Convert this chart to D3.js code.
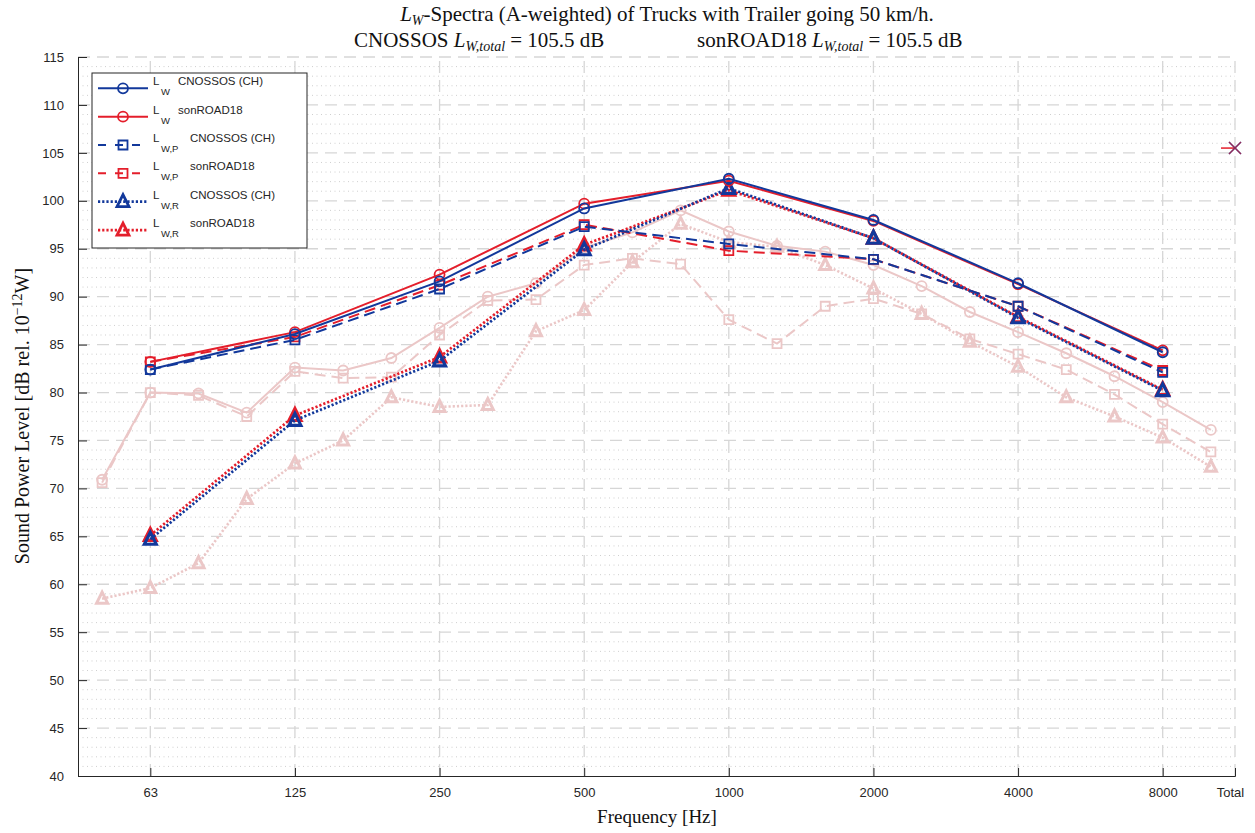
<!DOCTYPE html>
<html>
<head>
<meta charset="utf-8">
<script src="https://cdn.jsdelivr.net/npm/d3@7"></script>
<style>
  body { margin: 0; background: #fff; }
  text { fill: #262626; }
  .serif { font-family: 'Liberation Serif', 'Times New Roman', serif; fill: #111; }
  .sans { font-family: 'Liberation Sans', Arial, sans-serif; }
</style>
</head>
<body>
<svg id="chart" width="1255" height="833"></svg>
<script>
// octave bands (dark lines)
let octaveBands = ['63', '125', '250', '500', '1000', '2000', '4000', '8000'];
let cnossosLW = [82.4, 86.1, 91.6, 99.2, 102.3, 98.0, 91.4, 84.2];
let sonroadLW = [83.2, 86.3, 92.3, 99.7, 102.1, 97.9, 91.3, 84.4];
let cnossosLWP = [82.4, 85.5, 90.8, 97.3, 95.5, 93.9, 89.0, 82.1];
let sonroadLWP = [83.2, 85.8, 91.2, 97.5, 94.8, 93.9, 89.0, 82.3];
let cnossosLWR = [64.7, 77.1, 83.3, 94.9, 101.3, 96.1, 87.8, 80.2];
let sonroadLWR = [65.1, 77.6, 83.7, 95.4, 101.1, 96.1, 87.9, 80.3];

// third-octave bands (pale lines, sonROAD18)
let thirdBands = [50, 63, 80, 100, 125, 160, 200, 250, 315, 400, 500, 630, 800,
    1000, 1250, 1600, 2000, 2500, 3150, 4000, 5000, 6300, 8000, 10000];
let thirdLW = [70.9, 80.0, 79.9, 77.9, 82.6, 82.3, 83.6, 86.75, 90.0, 91.4, 95.1, 96.7, 99.0,
    96.8, 95.3, 94.7, 93.3, 91.1, 88.4, 86.3, 84.1, 81.7, 79.0, 76.1];
let thirdLWP = [70.6, 80.0, 79.7, 77.5, 82.2, 81.5, 81.6, 86.0, 89.6, 89.7, 93.3, 94.0, 93.4,
    87.6, 85.1, 89.0, 89.8, 88.2, 85.6, 84.0, 82.4, 79.8, 76.7, 73.8];
let thirdLWR = [58.5, 59.6, 62.2, 68.9, 72.6, 75.0, 79.5, 78.5, 78.7, 86.4, 88.6, 93.6, 97.6,
    95.7, 95.2, 93.3, 90.85, 88.2, 85.3, 82.7, 79.5, 77.5, 75.3, 72.25];

let totalCnossos = 105.5;
let totalSonroad = 105.5;
let yTicks = d3.range(40, 116, 5);

let blue = '#12389b';
let red = '#e41e2b';
let pale = '#ebc7c7';

let svg = d3.select('#chart');

let x = d3.scaleLinear().domain([-0.5, thirdBands.length - 0.5]).range([78, 1235]);
let y = d3.scaleLinear().domain([40, 115]).range([776, 57]);

// band index of a frequency label
let bandIndex = f => thirdBands.indexOf(+f);
let totalIndex = thirdBands.length - 0.5;

// grid
let grid = svg.append('g');
grid.selectAll('.minor')
    .data(d3.range(41, 115, 1).filter(v => v % 5 !== 0))
    .enter()
    .append('line')
    .attr('x1', x.range()[0]).attr('x2', x.range()[1])
    .attr('y1', d => y(d)).attr('y2', d => y(d))
    .attr('stroke', '#cfcfcf').attr('stroke-width', 1)
    .attr('stroke-dasharray', '1,3.5');
grid.selectAll('.majorY')
    .data(yTicks.filter(v => v > 40))
    .enter()
    .append('line')
    .attr('x1', x.range()[0]).attr('x2', x.range()[1])
    .attr('y1', d => y(d)).attr('y2', d => y(d))
    .attr('stroke', '#d6d6d6').attr('stroke-width', 1.3)
    .attr('stroke-dasharray', '12,7');
grid.selectAll('.majorX')
    .data(octaveBands.map(bandIndex).concat([totalIndex]))
    .enter()
    .append('line')
    .attr('x1', d => x(d)).attr('x2', d => x(d))
    .attr('y1', y(40)).attr('y2', y(115))
    .attr('stroke', '#d6d6d6').attr('stroke-width', 1.3)
    .attr('stroke-dasharray', '12,7');

// axes
let yAxis = d3.axisLeft(y).tickValues(yTicks).tickSize(-9).tickPadding(14);
let xAxis = d3.axisBottom(x)
    .tickValues(octaveBands.map(bandIndex).concat([totalIndex]))
    .tickFormat((d, i) => i < octaveBands.length ? octaveBands[i] : 'Total')
    .tickSize(-8).tickPadding(12);

let gy = svg.append('g').attr('transform', 'translate(' + x.range()[0] + ',0)').call(yAxis);
let gx = svg.append('g').attr('transform', 'translate(0,' + y(40) + ')').call(xAxis);
[gx, gy].forEach(g => {
    g.select('.domain').attr('stroke', '#262626');
    g.selectAll('.tick line').attr('stroke', '#262626');
    g.selectAll('.tick text')
        .attr('class', 'sans')
        .style('font-size', '13px')
        .attr('fill', '#262626');
});
gx.selectAll('.tick text').filter(d => d === totalIndex).attr('dx', -5);

// line drawing
let styles = {
    solid: null,
    dashed: '11,6',
    dotted: '2.2,2'
};

function drawSeries(xs, values, color, dash, marker, width, msize) {
    let pts = values.map((v, i) => [x(xs[i]), y(v)]);
    let g = svg.append('g');
    g.append('path')
        .attr('d', d3.line()(pts))
        .attr('fill', 'none')
        .attr('stroke', color)
        .attr('stroke-width', width)
        .attr('stroke-dasharray', styles[dash]);
    g.selectAll('.m')
        .data(pts)
        .enter()
        .append('path')
        .attr('transform', d => 'translate(' + d[0] + ',' + d[1] + ')')
        .attr('d', markerPath(marker, msize))
        .attr('fill', 'none')
        .attr('stroke', color)
        .attr('stroke-width', marker === 'triangle' ? width + 0.4 : width - 0.2);
}

function markerPath(marker, s) {
    if (marker === 'circle') {
        return d3.symbol(d3.symbolCircle, Math.PI * s * s / 4)();
    }
    if (marker === 'square') {
        let h = s / 2;
        return 'M' + -h + ',' + -h + 'H' + h + 'V' + h + 'H' + -h + 'Z';
    }
    let h = s / 2;
    return 'M0,' + (-h - 1) + 'L' + h + ',' + (h - 1) + 'H' + -h + 'Z';
}

let thirdX = thirdBands.map((d, i) => i);
let octX = octaveBands.map(bandIndex);

drawSeries(thirdX, thirdLW, pale, 'solid', 'circle', 2, 10);
drawSeries(thirdX, thirdLWP, pale, 'dashed', 'square', 2, 9);
drawSeries(thirdX, thirdLWR, pale, 'dotted', 'triangle', 2.6, 11);

drawSeries(octX, sonroadLWR, red, 'dotted', 'triangle', 2.7, 12);
drawSeries(octX, cnossosLWR, blue, 'dotted', 'triangle', 2.7, 12);
drawSeries(octX, sonroadLWP, red, 'dashed', 'square', 2, 9);
drawSeries(octX, cnossosLWP, blue, 'dashed', 'square', 2, 9);
drawSeries(octX, sonroadLW, red, 'solid', 'circle', 2, 10);
drawSeries(octX, cnossosLW, blue, 'solid', 'circle', 2, 10);

// totals
let tx = x(totalIndex);
svg.append('line')
    .attr('x1', tx - 14).attr('x2', tx)
    .attr('y1', y(totalSonroad)).attr('y2', y(totalSonroad))
    .attr('stroke', red).attr('stroke-width', 1.5);
svg.append('path')
    .attr('transform', 'translate(' + tx + ',' + y(totalCnossos) + ')')
    .attr('d', 'M-6,-6L6,6M-6,6L6,-6')
    .attr('stroke', blue).attr('stroke-width', 1.4);
svg.append('path')
    .attr('transform', 'translate(' + tx + ',' + y(totalSonroad) + ')')
    .attr('d', 'M-6,-6L6,6M-6,6L6,-6')
    .attr('stroke', red).attr('stroke-width', 1.4).attr('opacity', 0.6);

// legend
let legendItems = [
    { sub: 'W', name: 'CNOSSOS (CH)', color: blue, dash: 'solid', marker: 'circle' },
    { sub: 'W', name: 'sonROAD18', color: red, dash: 'solid', marker: 'circle' },
    { sub: 'W,P', name: 'CNOSSOS (CH)', color: blue, dash: 'dashed', marker: 'square' },
    { sub: 'W,P', name: 'sonROAD18', color: red, dash: 'dashed', marker: 'square' },
    { sub: 'W,R', name: 'CNOSSOS (CH)', color: blue, dash: 'dotted', marker: 'triangle' },
    { sub: 'W,R', name: 'sonROAD18', color: red, dash: 'dotted', marker: 'triangle' }
];

let legend = svg.append('g').attr('transform', 'translate(92,73)');
legend.append('rect')
    .attr('width', 215).attr('height', 175)
    .attr('fill', '#fff').attr('stroke', '#262626').attr('stroke-width', 1);

let rows = legend.selectAll('.row')
    .data(legendItems)
    .enter()
    .append('g')
    .attr('transform', (d, i) => 'translate(0,' + (15.3 + i * 28.35) + ')');
rows.append('line')
    .attr('x1', 6).attr('x2', 56)
    .attr('stroke', d => d.color)
    .attr('stroke-width', d => d.dash === 'dotted' ? 2.7 : 2)
    .attr('stroke-dasharray', d => d.dash === 'dashed' ? '8,9' : styles[d.dash]);
rows.append('path')
    .attr('transform', 'translate(31,0)')
    .attr('d', d => markerPath(d.marker, d.marker === 'triangle' ? 12 : d.marker === 'circle' ? 10 : 9))
    .attr('fill', 'none')
    .attr('stroke', d => d.color)
    .attr('stroke-width', d => d.marker === 'triangle' ? 2.8 : 1.8);
rows.append('text')
    .attr('class', 'sans')
    .attr('x', 61).attr('y', -3)
    .style('font-size', '11.5px')
    .text('L');
rows.append('text')
    .attr('class', 'sans')
    .attr('x', 69).attr('y', 7)
    .style('font-size', '9.5px')
    .text(d => d.sub);
rows.append('text')
    .attr('class', 'sans')
    .attr('x', d => d.sub === 'W' ? 86 : 98).attr('y', -3)
    .style('font-size', '11.5px')
    .text(d => d.name);

// titles
let title1 = svg.append('text').attr('class', 'serif')
    .attr('x', 667).attr('y', 21).attr('text-anchor', 'middle')
    .style('font-size', '21px');
title1.append('tspan').attr('font-style', 'italic').text('L');
title1.append('tspan').attr('font-style', 'italic').attr('dy', 4).style('font-size', '14px').text('W');
title1.append('tspan').attr('dy', -4).text('-Spectra (A-weighted) of Trucks with Trailer going 50 km/h.');

function totalTitle(xPos, name, value) {
    let t = svg.append('text').attr('class', 'serif')
        .attr('x', xPos).attr('y', 47)
        .style('font-size', '21px');
    t.append('tspan').text(name + ' ');
    t.append('tspan').attr('font-style', 'italic').text('L');
    t.append('tspan').attr('font-style', 'italic').attr('dy', 4).style('font-size', '14px').text('W,total');
    t.append('tspan').attr('dy', -4).text(' = ' + value.toFixed(1) + ' dB');
}
totalTitle(354, 'CNOSSOS', totalCnossos);
totalTitle(697, 'sonROAD18', totalSonroad);

// axis labels
svg.append('text').attr('class', 'serif')
    .attr('x', 657).attr('y', 823).attr('text-anchor', 'middle')
    .style('font-size', '19px')
    .text('Frequency [Hz]');

let yl = svg.append('text').attr('class', 'serif')
    .attr('transform', 'translate(29,416) rotate(-90)')
    .attr('text-anchor', 'middle')
    .style('font-size', '20px');
yl.append('tspan').text('Sound Power Level [dB rel. 10');
yl.append('tspan').attr('dy', -7).style('font-size', '14px').text('\u221212');
yl.append('tspan').attr('dy', 7).text('W]');
</script>
</body>
</html>
